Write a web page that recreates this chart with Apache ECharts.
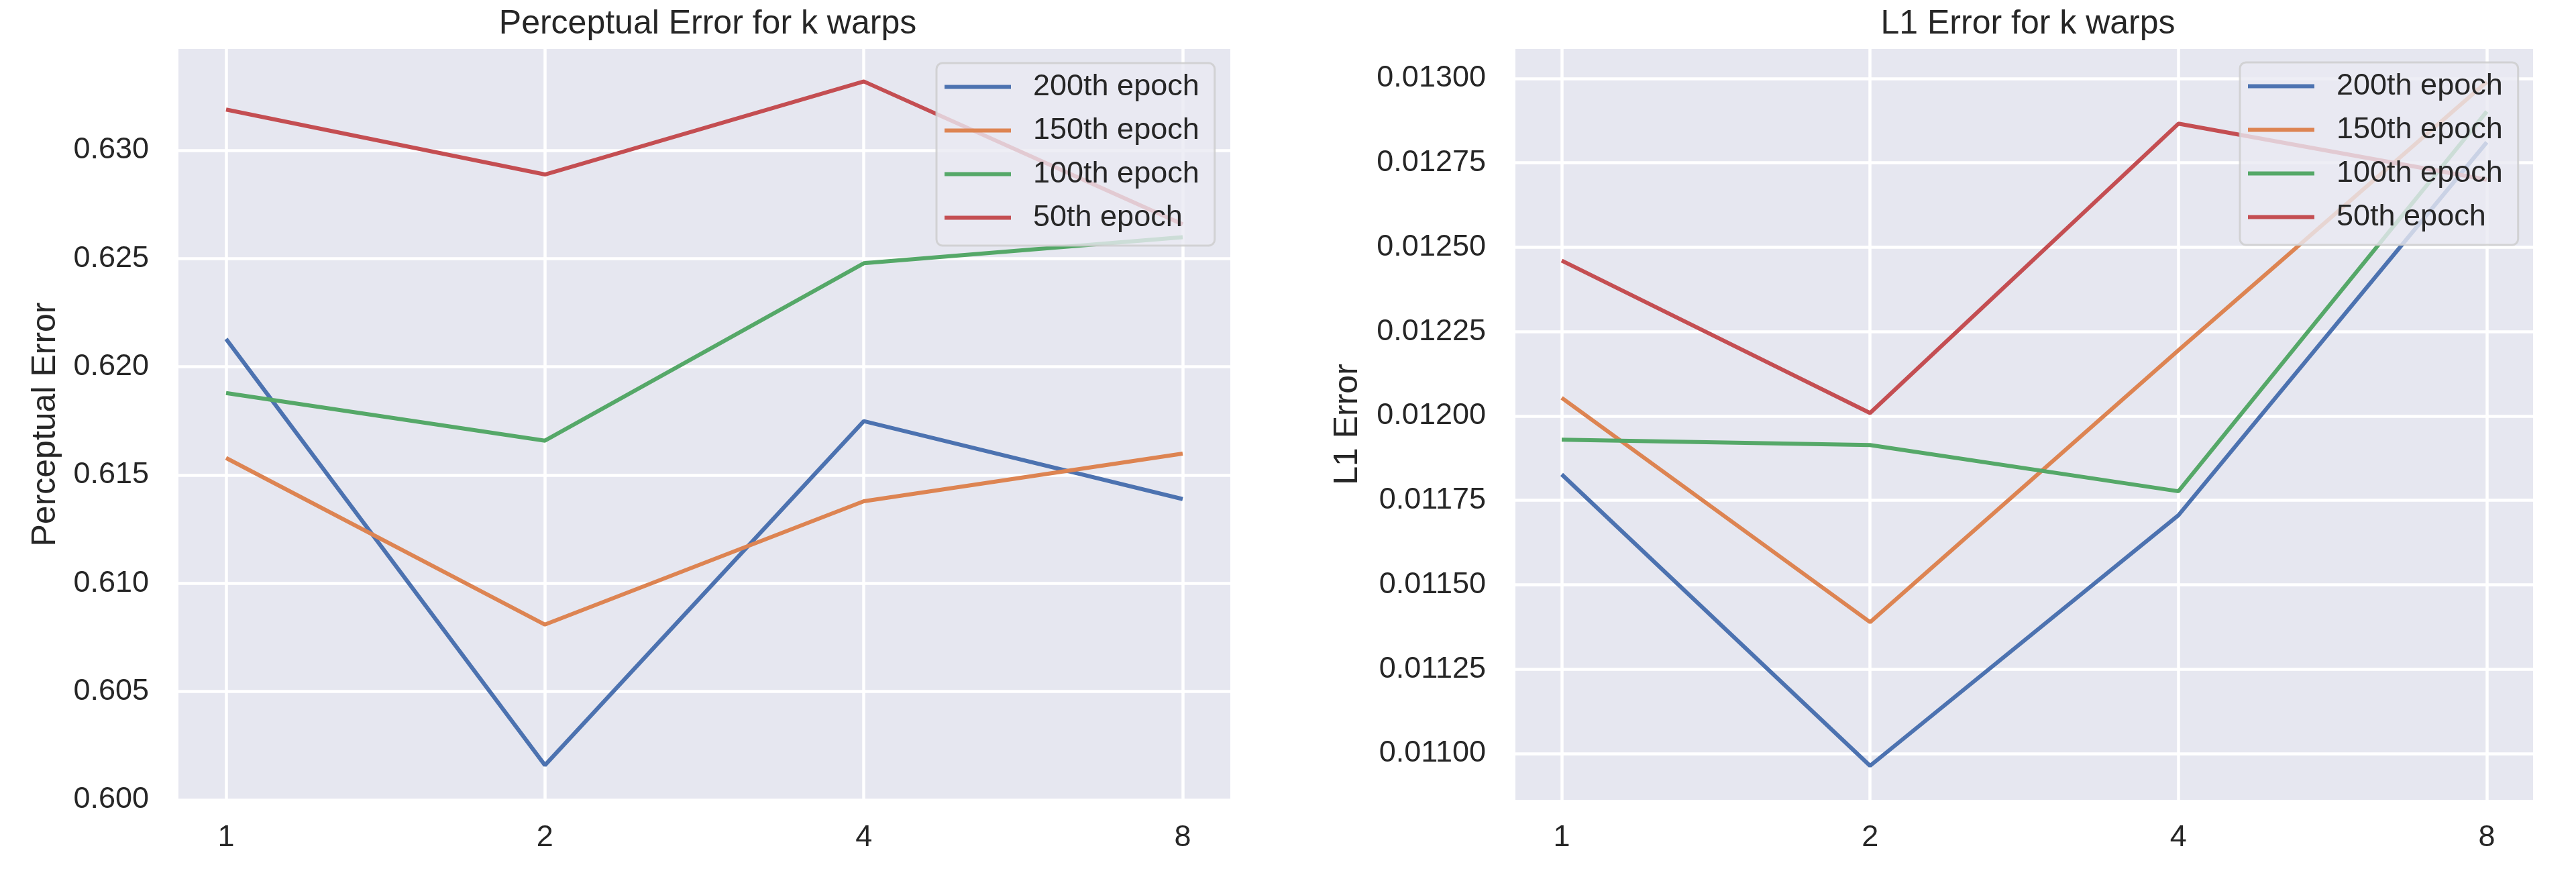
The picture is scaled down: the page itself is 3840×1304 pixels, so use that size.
<!DOCTYPE html>
<html>
<head>
<meta charset="utf-8">
<script src="https://cdn.jsdelivr.net/npm/echarts@6/dist/echarts.min.js"></script>
<style>
  html, body { margin: 0; padding: 0; background: #ffffff; }
  #chart { width: 3840px; height: 1304px; }
</style>
</head>
<body>
<div id="chart"></div>
<script>
// ---------------- data ----------------
const kWarps = ['1', '2', '4', '8'];
const seriesNames = ['200th epoch', '150th epoch', '100th epoch', '50th epoch'];

const perceptual200 = [0.6213, 0.6016, 0.6175, 0.6139];
const perceptual150 = [0.6158, 0.6081, 0.6138, 0.6160];
const perceptual100 = [0.6188, 0.6166, 0.6248, 0.6260];
const perceptual50  = [0.6319, 0.6289, 0.6332, 0.6266];

const l1Error200 = [0.011826, 0.010962, 0.011705, 0.012811];
const l1Error150 = [0.012053, 0.011388, 0.012194, 0.012990];
const l1Error100 = [0.011929, 0.011913, 0.011776, 0.012902];
const l1Error50  = [0.012460, 0.012008, 0.012866, 0.012700];

const perceptualTicks = [0.600, 0.605, 0.610, 0.615, 0.620, 0.625, 0.630];
const l1Ticks = [0.01100, 0.01125, 0.01150, 0.01175, 0.01200, 0.01225, 0.01250, 0.01275, 0.01300];

// visible value range of each panel (matplotlib auto-limits)
const perceptualRange = [0.6000, 0.6347];
const l1Range = [0.010861, 0.0130875];

// ---------------- style ----------------
const FONT = '"Liberation Sans", Arial, sans-serif';
const TEXT = '#262626';
const BG = '#E6E7F0';
const COLORS = ['#4C72B0', '#DD8452', '#55A868', '#C44E52'];
const GRIDW = 4.5;

const chart = echarts.init(document.getElementById('chart'), null, { renderer: 'canvas' });

function panel(p) {
  // p: indices and layout
  const grids = [
    { show: true, backgroundColor: BG, borderWidth: 0, left: p.bgLeft, top: 73, width: p.bgWidth, height: 1119 },
    { show: false, left: p.bgLeft, top: p.tickTop, width: p.bgWidth, height: p.tickHeight },
    { show: false, left: p.dataLeft, top: 73, width: p.dataWidth, height: 1119 }
  ];
  const g0 = p.gridBase;
  const xAxes = [
    { gridIndex: g0, type: 'value', show: false, min: 0, max: 1 },
    { gridIndex: g0 + 1, type: 'value', show: false, min: 0, max: 1 },
    {
      gridIndex: g0 + 2, type: 'category', data: kWarps, boundaryGap: false,
      axisLine: { show: false }, axisTick: { show: false },
      axisLabel: { fontFamily: FONT, fontSize: 45, color: TEXT, margin: 34 },
      splitLine: { show: true, lineStyle: { color: '#ffffff', width: GRIDW } },
      z: 1
    }
  ];
  const ticks = p.ticks;
  const step = ticks[1] - ticks[0];
  const yAxes = [
    { gridIndex: g0, type: 'value', show: false, min: p.range[0], max: p.range[1] },
    {
      gridIndex: g0 + 1, type: 'value',
      min: ticks[0], max: ticks[ticks.length - 1], interval: step,
      axisLine: { show: false }, axisTick: { show: false },
      axisLabel: {
        fontFamily: FONT, fontSize: 45, color: TEXT, margin: 44,
        formatter: v => v.toFixed(p.decimals)
      },
      splitLine: { show: true, lineStyle: { color: '#ffffff', width: GRIDW } },
      z: 1
    },
    {
      gridIndex: g0 + 2, type: 'value', min: p.range[0], max: p.range[1],
      axisLine: { show: false }, axisTick: { show: false },
      axisLabel: { show: false }, splitLine: { show: false },
      name: p.yName, nameLocation: 'middle', nameGap: p.nameGap, nameRotate: 90,
      nameTextStyle: { fontFamily: FONT, fontSize: 50, color: TEXT }
    }
  ];
  const series = p.values.map((vals, i) => ({
    type: 'line',
    name: seriesNames[i],
    xAxisIndex: p.axisBase + 2,
    yAxisIndex: p.axisBase + 2,
    data: vals,
    showSymbol: false,
    symbol: 'none',
    lineStyle: { color: COLORS[i], width: 6 },
    itemStyle: { color: COLORS[i] },
    z: 2 + i * 0.01,
    animation: false
  }));
  return { grids, xAxes, yAxes, series };
}

const left = panel({
  gridBase: 0, axisBase: 0,
  bgLeft: 266, bgWidth: 1568,
  tickTop: 224, tickHeight: 968,
  dataLeft: 337, dataWidth: 1426,
  ticks: perceptualTicks, decimals: 3, range: perceptualRange,
  yName: 'Perceptual Error', nameGap: 244,
  values: [perceptual200, perceptual150, perceptual100, perceptual50]
});
const right = panel({
  gridBase: 3, axisBase: 3,
  bgLeft: 2259, bgWidth: 1517,
  tickTop: 117, tickHeight: 1006,
  dataLeft: 2328, dataWidth: 1379,
  ticks: l1Ticks, decimals: 5, range: l1Range,
  yName: 'L1 Error', nameGap: 294,
  values: [l1Error200, l1Error150, l1Error100, l1Error50]
});

const legendCommon = {
  orient: 'vertical',
  icon: 'rect',
  itemWidth: 99,
  itemHeight: 6,
  itemGap: 20,
  padding: [13, 23, 19, 12],
  backgroundColor: 'rgba(234,234,242,0.8)',
  borderColor: 'rgba(204,204,204,0.8)',
  borderWidth: 3,
  borderRadius: 9,
  selectedMode: false,
  textStyle: { fontFamily: FONT, fontSize: 45, color: TEXT, lineHeight: 45, padding: [0, 0, 0, 28] },
  data: seriesNames,
  z: 10
};

const option = {
  animation: false,
  backgroundColor: '#ffffff',
  title: [
    { text: 'Perceptual Error for k warps', left: 1050, top: 6, textAlign: 'center',
      textStyle: { fontFamily: FONT, fontSize: 50, fontWeight: 'normal', color: TEXT } },
    { text: 'L1 Error for k warps', left: 3018, top: 6, textAlign: 'center',
      textStyle: { fontFamily: FONT, fontSize: 50, fontWeight: 'normal', color: TEXT } }
  ],
  legend: [
    Object.assign({}, legendCommon, { left: 1396, top: 94 }),
    Object.assign({}, legendCommon, { left: 3339, top: 93 })
  ],
  grid: left.grids.concat(right.grids),
  xAxis: left.xAxes.concat(right.xAxes),
  yAxis: left.yAxes.concat(right.yAxes),
  series: left.series.concat(right.series)
};

chart.setOption(option);
</script>
</body>
</html>
